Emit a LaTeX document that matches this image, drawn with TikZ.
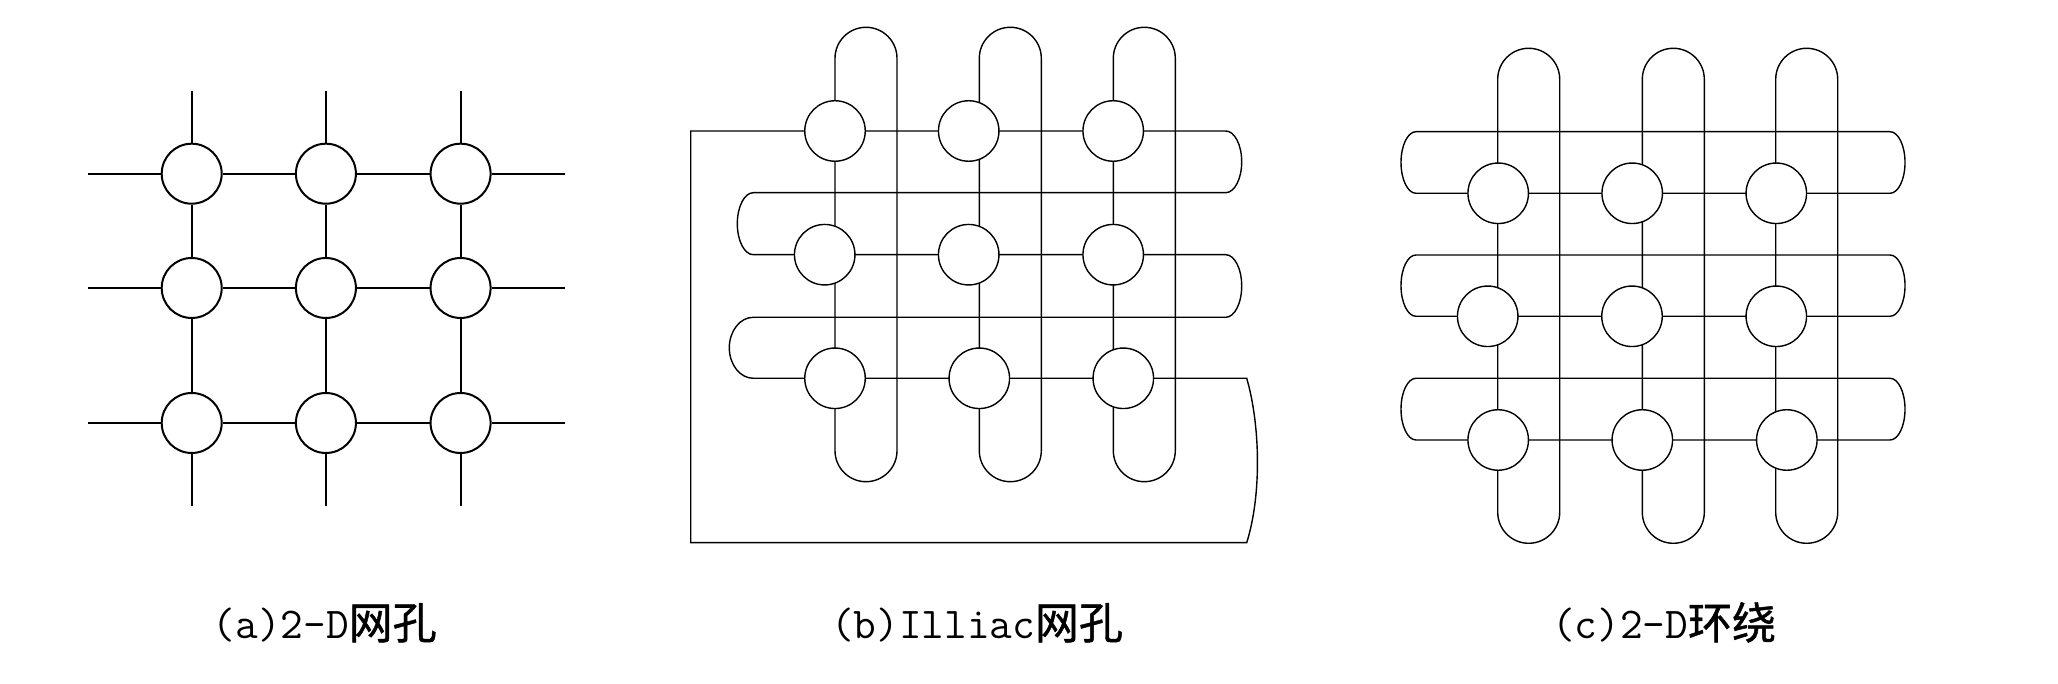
\documentclass[tikz,border=0pt]{standalone}
\usepackage{fontspec}
\newfontfamily\cjk{Noto Sans CJK SC}[FakeBold=1]
\begin{document}
\begin{tikzpicture}[x=1pt,y=1pt,
  pea/.style={circle, draw, fill=white, minimum size=60pt, inner sep=0pt, line width=2pt},
  pe/.style={circle, draw, fill=white, minimum size=60.5pt, inner sep=0pt, line width=1.4pt},
  wirea/.style={line width=2pt},
  wire/.style={line width=1.4pt},
  captxt/.style={anchor=base, inner sep=0pt, font=\fontsize{44}{50}\selectfont}]
\useasboundingbox[fill=white] (0,0) rectangle (2058,684);

% ---------------- (a) 2-D mesh ----------------
\foreach \c/\x in {1/191.7,2/325.9,3/460.6}{
  \coordinate (aT\c) at (\x,593);
  \coordinate (aB\c) at (\x,178.3);
}
\foreach \r/\y in {1/510.3,2/396,3/261}{
  \coordinate (aL\r) at (88.4,\y);
  \coordinate (aR\r) at (564.6,\y);
}
\foreach \r/\y in {1/510.3,2/396,3/261}{
  \foreach \c/\x in {1/191.7,2/325.9,3/460.6}{
    \node[pea] (a\r\c) at (\x,\y) {};
  }
}
\foreach \r in {1,2,3}{
  \draw[wirea] (aL\r) -- (a\r1) -- (a\r2) -- (a\r3) -- (aR\r);
}
\foreach \c in {1,2,3}{
  \draw[wirea] (aT\c) -- (a1\c) -- (a2\c) -- (a3\c) -- (aB\c);
}
\node[captxt] (capa) at (324.7,45) {\ttfamily(a)2-D\cjk 网孔};

% ---------------- (b) Illiac mesh ----------------
\foreach \xl in {835,979.3,1113.3}{
  \draw[wire] (\xl,233.3) -- (\xl,625.7) arc[start angle=180,end angle=0,radius=31]
    -- (\xl+62,233.3) arc[start angle=0,end angle=-180,radius=31] -- cycle;
}
\draw[wire] (690.7,553) -- (1225.7,553)
  arc[start angle=90,end angle=-90,x radius=16,y radius=30.85]
  -- (753.3,491.3) arc[start angle=90,end angle=270,x radius=16,y radius=31]
  -- (1225.7,429.3) arc[start angle=90,end angle=-90,x radius=16,y radius=31.3]
  -- (753.3,366.7) arc[start angle=90,end angle=270,x radius=24,y radius=30.5]
  -- (1246.7,305.7) .. controls (1260,260) and (1262,190) .. (1246.7,141.3)
  -- (690.7,141.3) -- cycle;
\node[pe] (b11) at (835,553) {};
\node[pe] (b12) at (968.7,553) {};
\node[pe] (b13) at (1113.2,553) {};
\node[pe] (b21) at (824.7,429.3) {};
\node[pe] (b22) at (968.7,429.3) {};
\node[pe] (b23) at (1113.2,429.3) {};
\node[pe] (b31) at (835,305.7) {};
\node[pe] (b32) at (979.3,305.7) {};
\node[pe] (b33) at (1123.3,305.7) {};
\node[captxt] (capb) at (977,45) {\ttfamily(b)Illiac\cjk 网孔};

% ---------------- (c) 2-D torus ----------------
\foreach \xl in {1497.7,1642.3,1775.7}{
  \draw[wire] (\xl,171.7) -- (\xl,604.7) arc[start angle=180,end angle=0,radius=31]
    -- (\xl+62,171.7) arc[start angle=0,end angle=-180,radius=31] -- cycle;
}
\foreach \yt/\yb in {552.3/490.7,429/367.7,305.7/244}{
  \draw[wire] (1416,\yt) -- (1890,\yt)
    arc[start angle=90,end angle=-90,x radius=15,y radius={(\yt-\yb)/2}]
    -- (1416,\yb) arc[start angle=270,end angle=90,x radius=15,y radius={(\yt-\yb)/2}] -- cycle;
}
\node[pe] (c11) at (1498.2,490.7) {};
\node[pe] (c12) at (1632.2,490.7) {};
\node[pe] (c13) at (1776.3,490.7) {};
\node[pe] (c21) at (1487.7,367.7) {};
\node[pe] (c22) at (1632,367.7) {};
\node[pe] (c23) at (1776.3,367.7) {};
\node[pe] (c31) at (1498.2,244) {};
\node[pe] (c32) at (1642.3,244) {};
\node[pe] (c33) at (1786.8,244) {};
\node[captxt] (capc) at (1664,45) {\ttfamily(c)2-D\cjk 环绕};
\end{tikzpicture}
\end{document}
